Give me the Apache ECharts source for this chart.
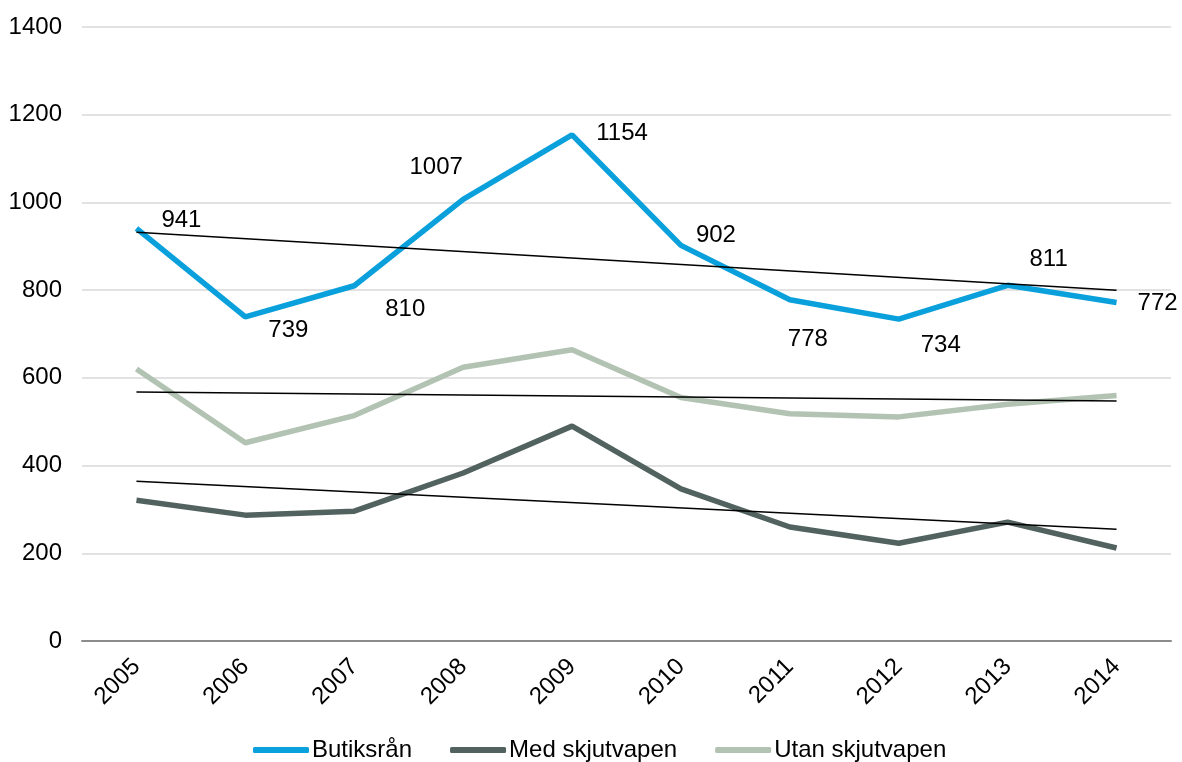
<!DOCTYPE html>
<html><head><meta charset="utf-8">
<script src="https://cdn.jsdelivr.net/npm/echarts@6/dist/echarts.min.js"></script>
<style>html,body{margin:0;padding:0;background:#fff}#c{width:1182px;height:762px}</style>
</head><body><div id="c"></div>
<script>
const years = ['2005','2006','2007','2008','2009','2010','2011','2012','2013','2014'];
const butiksran = [941, 739, 810, 1007, 1154, 902, 778, 734, 811, 772];
const medSkjutvapen = [321, 287, 296, 383, 490, 347, 260, 223, 271, 212];
const utanSkjutvapen = [620, 452, 514, 624, 664, 555, 518, 511, 540, 560];
// trend line endpoints (first year, last year)
const trendButiksran = [932, 800];
const trendMed = [364, 255];
const trendUtan = [568, 547];
const seriesNames = ['Butiksrån', 'Med skjutvapen', 'Utan skjutvapen'];
// label offsets (px) for Butiksrån labels
const labelOffsets = [[45,-8],[43,13],[51,24],[-27,-32],[50,-2],[35,-10],[18,40],[42,26],[41,-26],[41,1]];

const font = 'Liberation Sans, Arial, sans-serif';
function trendData(ends){
  const d = years.map(()=>null);
  d[0] = ends[0]; d[d.length-1] = ends[1];
  return d;
}
const chart = echarts.init(document.getElementById('c'));
chart.setOption({
  animation:false,
  grid:{left:82,right:11,top:27,bottom:121,containLabel:false},
  legend:{
    data:seriesNames, top:733, left:248, itemWidth:56, itemHeight:6, itemGap:38,
    icon:'roundRect',
    textStyle:{fontFamily:font,fontSize:24,color:'#000',padding:[0,0,0,-2]}
  },
  xAxis:{
    type:'category', data:years, boundaryGap:true,
    axisLine:{lineStyle:{color:'#8c8c8c',width:2}},
    axisTick:{show:false},
    axisLabel:{rotate:45,fontFamily:font,fontSize:24,color:'#000',margin:22}
  },
  yAxis:{
    type:'value', min:0, max:1400, interval:200,
    axisLine:{show:false}, axisTick:{show:false},
    splitLine:{lineStyle:{color:'#d9d9d9',width:1.5}},
    axisLabel:{fontFamily:font,fontSize:24,color:'#000',margin:20,formatter:v=>String(v)}
  },
  series:[
    {name:seriesNames[0],type:'line',data:butiksran.map((v,i)=>({value:v,label:{offset:labelOffsets[i]}})),
     symbol:'circle',symbolSize:0,showSymbol:true,
     lineStyle:{color:'#0aa0dc',width:5.5},itemStyle:{color:'#0aa0dc'},
     label:{show:true,position:'inside',fontFamily:font,fontSize:24,color:'#000',align:'center',verticalAlign:'middle'},
     z:3},
    {name:seriesNames[1],type:'line',data:medSkjutvapen,symbol:'none',
     lineStyle:{color:'#52635f',width:5.5},itemStyle:{color:'#52635f'},z:3},
    {name:seriesNames[2],type:'line',data:utanSkjutvapen,symbol:'none',
     lineStyle:{color:'#b3c3b3',width:5.5},itemStyle:{color:'#b3c3b3'},z:3},
    {name:'trend1',type:'line',data:trendData(trendButiksran),connectNulls:true,symbol:'none',
     lineStyle:{color:'#000',width:1.5},z:4,silent:true},
    {name:'trend2',type:'line',data:trendData(trendMed),connectNulls:true,symbol:'none',
     lineStyle:{color:'#000',width:1.5},z:4,silent:true},
    {name:'trend3',type:'line',data:trendData(trendUtan),connectNulls:true,symbol:'none',
     lineStyle:{color:'#000',width:1.5},z:4,silent:true}
  ]
});
</script></body></html>
